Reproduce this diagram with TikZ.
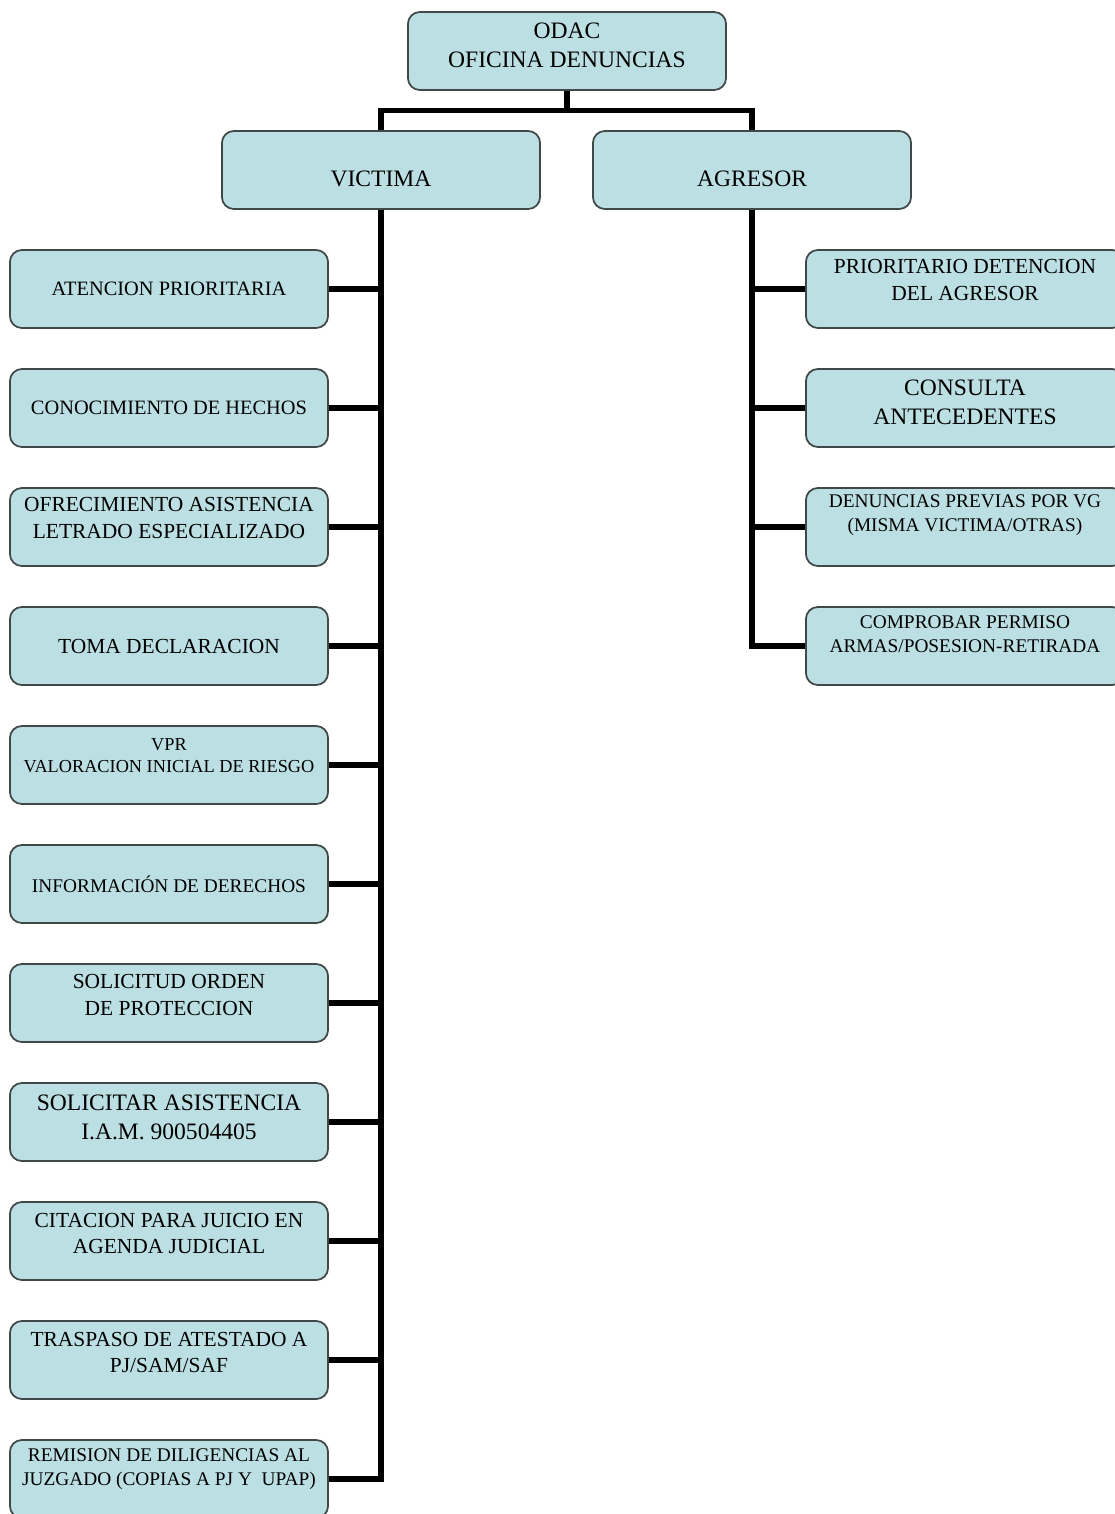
\documentclass[tikz,border=0pt]{standalone}
\usepackage{fontspec}
\setmainfont{Liberation Serif}
\definecolor{boxfill}{HTML}{BBDFE2}
\definecolor{boxline}{HTML}{404848}
\newcommand{\lifttxt}[1]{\\[#1]\mbox{}}
\tikzset{
  box/.style={draw=boxline, fill=boxfill, rounded corners=0.12cm, line width=0.5pt,
    minimum width=3.18cm, minimum height=0.78cm, align=center, inner sep=1pt},
  conn/.style={line width=1.45pt},
  txtL/.style={font=\fontsize{6.7}{8.2}\selectfont},
  txtM/.style={font=\fontsize{6.1}{7.5}\selectfont},
  txtN/.style={font=\fontsize{5.8}{7.1}\selectfont},
  txtS/.style={font=\fontsize{5.5}{6.8}\selectfont},
  txtX/.style={font=\fontsize{5.2}{6.4}\selectfont},
}
\begin{document}
\begin{tikzpicture}[x=0.01cm, y=-0.01cm]
  \useasboundingbox (0,0) rectangle (1115,1514);
  \clip (0,0) rectangle (1115,1514);

  % top level
  \node[box, txtL] (odac) at (567,51) {ODAC\\OFICINA DENUNCIAS\lifttxt{-5.1pt}};
  \node[box, txtL, text height=9.5pt, text depth=0pt] (vic) at (381,170) {VICTIMA};
  \node[box, txtL, text height=9.5pt, text depth=0pt] (agr) at (752,170) {AGRESOR};

  % victima
  \node[box, txtN] (v1) at (169,289) {ATENCION PRIORITARIA};
  \node[box, txtN] (v2) at (169,408) {CONOCIMIENTO DE HECHOS};
  \node[box, txtM] (v3) at (169,527) {OFRECIMIENTO ASISTENCIA\\LETRADO ESPECIALIZADO\lifttxt{-2.4pt}};
  \node[box, txtM] (v4) at (169,646) {TOMA DECLARACION};
  \node[box, txtX] (v5) at (169,765) {VPR\\VALORACION INICIAL DE RIESGO\lifttxt{-1pt}};
  \node[box, txtS] (v6) at (169,884) {INFORMACIÓN DE DERECHOS};
  \node[box, txtM] (v7) at (169,1003) {SOLICITUD ORDEN\\DE PROTECCION\lifttxt{-2.9pt}};
  \node[box, txtL] (v8) at (169,1122) {SOLICITAR ASISTENCIA\\I.A.M. 900504405\lifttxt{-5.4pt}};
  \node[box, txtM] (v9) at (169,1241) {CITACION PARA JUICIO EN\\AGENDA JUDICIAL\lifttxt{-3.2pt}};
  \node[box, txtM] (v10) at (169,1360) {TRASPASO DE ATESTADO A\\PJ/SAM/SAF\lifttxt{-3.1pt}};
  \node[box, txtS] (v11) at (169,1479) {REMISION DE DILIGENCIAS AL\\JUZGADO (COPIAS A PJ Y\ \ UPAP)\lifttxt{0pt}};

  % agresor
  \node[box, txtM] (a1) at (965,289) {PRIORITARIO DETENCION\\DEL AGRESOR\lifttxt{-2.4pt}};
  \node[box, txtL] (a2) at (965,408) {CONSULTA\\ANTECEDENTES\lifttxt{-4.8pt}};
  \node[box, txtS] (a3) at (965,527) {DENUNCIAS PREVIAS POR VG\\(MISMA VICTIMA/OTRAS)\lifttxt{1.2pt}};
  \node[box, txtS] (a4) at (965,646) {COMPROBAR PERMISO\\ARMAS/POSESION-RETIRADA\lifttxt{0pt}};

  % connectors
  \draw[conn] (odac.south) -- ++(0,20) coordinate (bus);
  \draw[conn] (vic.north) |- (bus) -| (agr.north);
  \draw[conn] (vic.south) |- (v11.east);
  \foreach \n in {1,...,10}
    \draw[conn] (v\n.east) -- (v\n.east -| vic.south);
  \draw[conn] (agr.south) |- (a4.west);
  \foreach \n in {1,2,3}
    \draw[conn] (a\n.west) -- (a\n.west -| agr.south);

\end{tikzpicture}
\end{document}
